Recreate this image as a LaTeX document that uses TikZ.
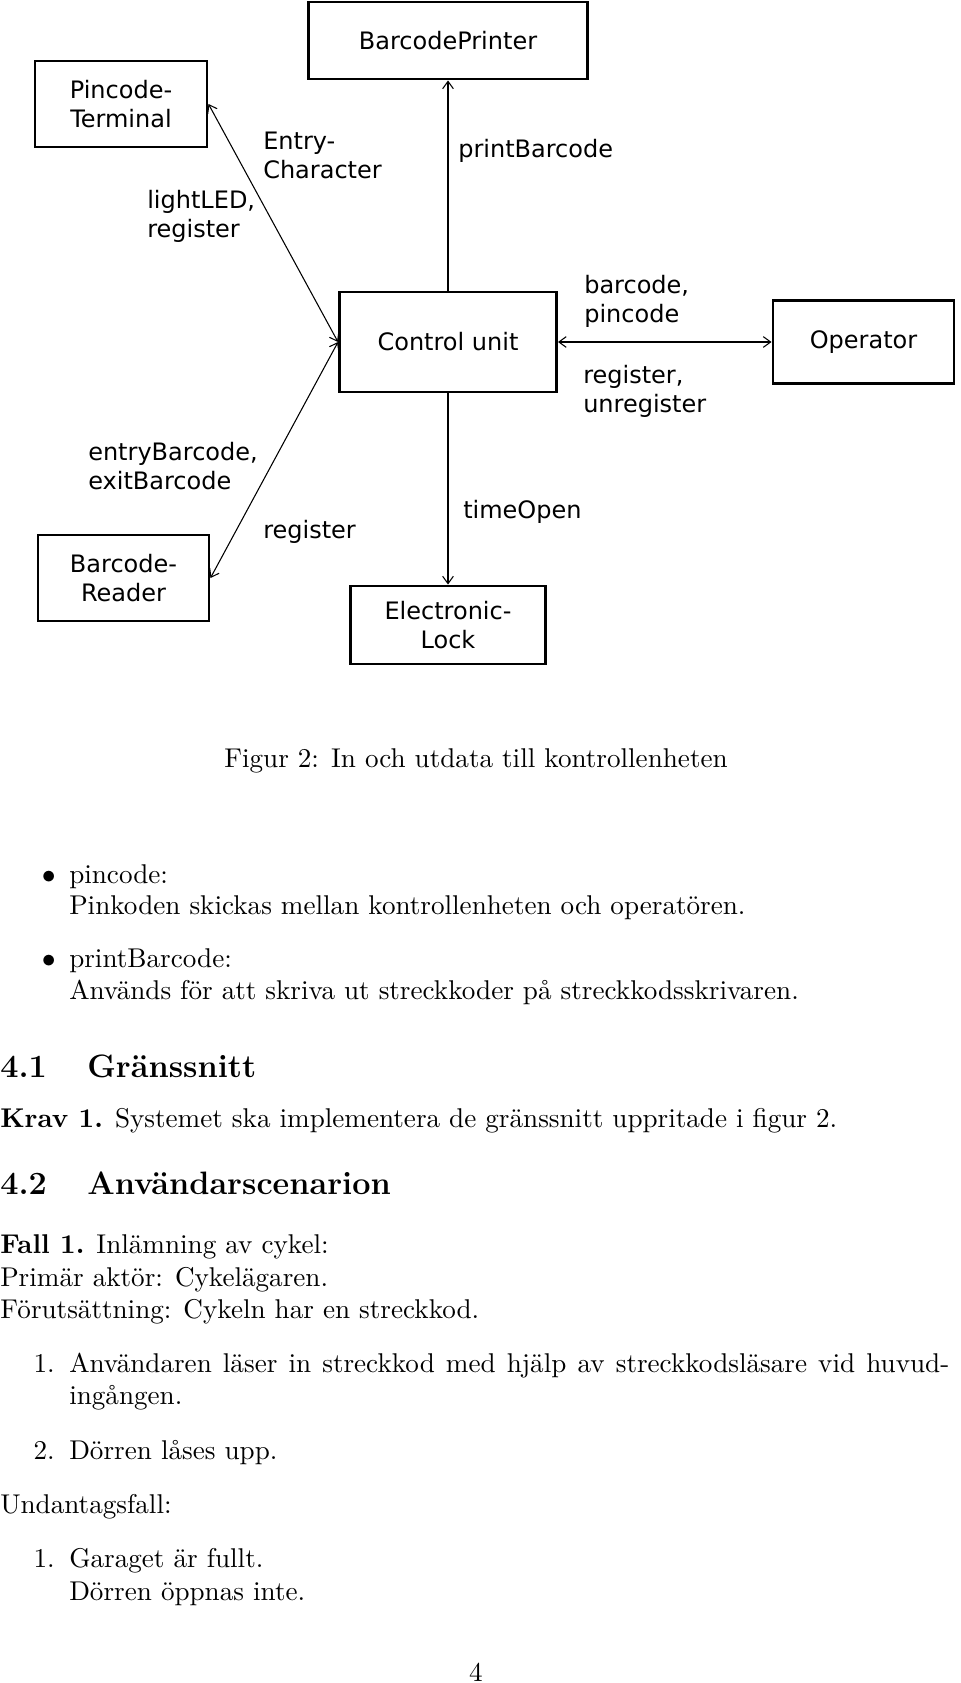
\documentclass[tikz,border=0pt]{standalone}
\usepackage{fontspec}
\setmainfont{lmroman10-regular.otf}[BoldFont=lmroman10-bold.otf]
\newfontfamily\headfont{lmroman12-bold.otf}
\newfontfamily\dejavu{DejaVu Sans}
\usetikzlibrary{arrows.meta}
\tikzset{barb/.tip={Straight Barb[length=5.5pt,width=8pt]}}
\begin{document}
\begin{tikzpicture}[x=0.75pt,y=-0.75pt,
  box/.style={draw, line width=2.2pt, align=center, inner sep=0pt, font=\dejavu\fontsize{18}{21.6}\selectfont},
  lbl/.style={anchor=north west, align=left, inner sep=0pt, font=\dejavu\fontsize{18}{21.6}\selectfont},
  con/.style={line width=0.8pt},
  body/.style={anchor=base west, inner sep=0pt, font=\fontsize{20.35}{24.4}\selectfont},
  head/.style={anchor=base west, inner sep=0pt, font=\headfont\fontsize{24.3}{29}\selectfont}]
\useasboundingbox (0,0) rectangle (960,1683);
% boxes
\node[box, minimum width=129pt, minimum height=64.5pt] (pin) at (121,104) {Pincode-\\Terminal};
\node[box, minimum width=209.25pt, minimum height=57.75pt] (printer) at (448,40.5) {BarcodePrinter};
\node[box, minimum width=162.75pt, minimum height=75pt] (ctrl) at (448,342) {Control unit};
\node[box, minimum width=135.75pt, minimum height=62.25pt] (oper) at (863.5,342) {Operator};
\node[box, minimum width=128.25pt, minimum height=64.5pt] (reader) at (123.5,578) {Barcode-\\Reader};
\node[box, minimum width=146.25pt, minimum height=58.5pt] (lock) at (448,625) {Electronic-\\Lock};
% connectors
\draw[con, barb-barb] (pin.east) -- (ctrl.west);
\draw[con, barb-barb] (ctrl.west) -- (reader.east);
\draw[con, -barb] (ctrl.north) -- (printer.south);
\draw[con, -barb] (ctrl.south) -- (lock.north);
\draw[con, barb-barb] (ctrl.east) -- (oper.west);
% connector labels
\node[lbl] (lLight) at (147,188) {\strut lightLED,\\register};
\node[lbl] (lEntry) at (263,129) {\strut Entry-\\Character};
\node[lbl] (lPrint) at (458,137) {\strut printBarcode};
\node[lbl] (lBar) at (584,273) {\strut barcode,\\pincode};
\node[lbl] (lReg) at (583,363) {\strut register,\\unregister};
\node[lbl] (lEntryB) at (88,440) {\strut entryBarcode,\\exitBarcode};
\node[lbl] (lReg2) at (263,518) {\strut register};
\node[lbl] (lTime) at (463,498) {\strut timeOpen};
% page text
\node[body, anchor=base] (cap) at (476,767) {Figur 2: In och utdata till kontrollenheten};
\node[body, anchor=base east] (b1) at (56,883) {$\bullet$};
\node[body] (t1) at (69,883) {pincode:};
\node[body] (t1b) at (69,914) {Pinkoden skickas mellan kontrollenheten och operatören.};
\node[body, anchor=base east] (b2) at (56,967) {$\bullet$};
\node[body] (t2) at (69,967) {printBarcode:};
\node[body] (t2b) at (69,999) {Används för att skriva ut streckkoder på streckkodsskrivaren.};
\node[head] (s41n) at (0,1077) {4.1};
\node[head] (s41) at (87,1077) {Gränssnitt};
\node[body] (krav) at (0,1127) {\textbf{Krav 1.} Systemet ska implementera de gränssnitt uppritade i figur 2.};
\node[head] (s42n) at (0,1194) {4.2};
\node[head] (s42) at (87,1194) {Användarscenarion};
\node[body] (fall) at (0,1253) {\textbf{Fall 1.} Inlämning av cykel:};
\node[body] (prim) at (0,1286) {Primär aktör: Cykelägaren.};
\node[body] (foru) at (0,1318) {Förutsättning: Cykeln har en streckkod.};
\node[body, anchor=base east] (n1) at (55,1372) {1.};
\node[body] (e1) at (69,1372) {\makebox[660pt][s]{Användaren läser in streckkod med hjälp av streckkodsläsare vid huvud-}};
\node[body] (e1b) at (69,1404) {ingången.};
\node[body, anchor=base east] (n2) at (55,1459) {2.};
\node[body] (e2) at (69,1459) {Dörren låses upp.};
\node[body] (und) at (0,1513) {Undantagsfall:};
\node[body, anchor=base east] (n3) at (55,1567) {1.};
\node[body] (e3) at (69,1567) {Garaget är fullt.};
\node[body] (e3b) at (69,1600) {Dörren öppnas inte.};
\node[body, anchor=base] (page) at (476,1681) {4};
\end{tikzpicture}
\end{document}
